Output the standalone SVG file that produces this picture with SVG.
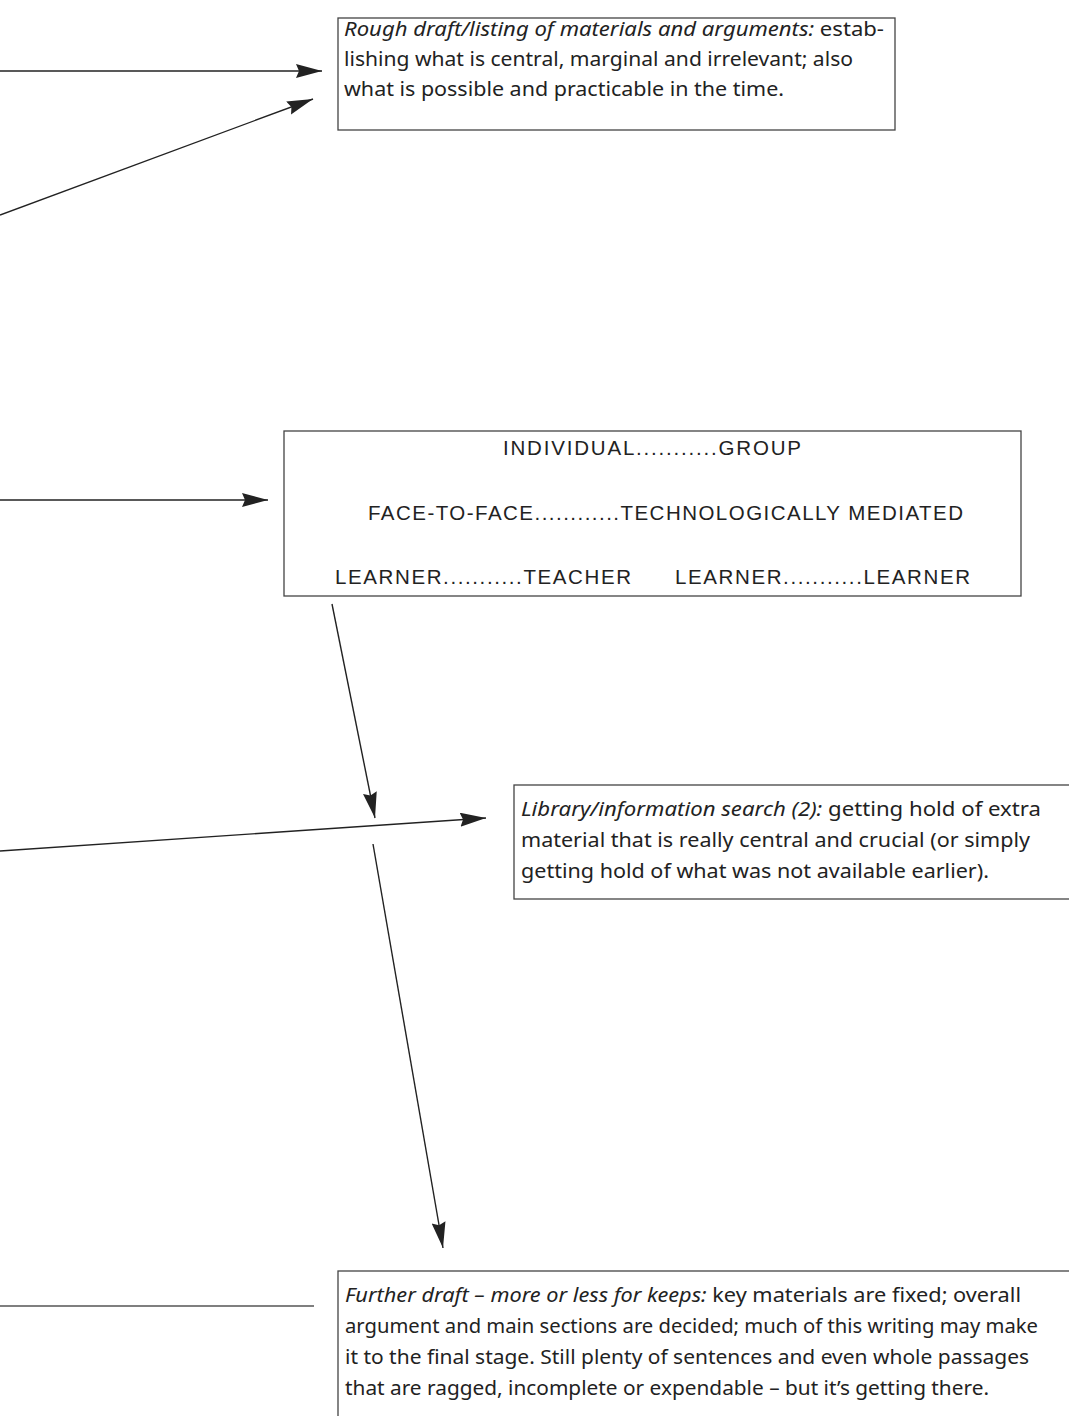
<svg xmlns="http://www.w3.org/2000/svg" width="1069" height="1416" viewBox="0 0 1069 1416">
<style>
.box{fill:#fff;stroke:#444;stroke-width:1.3}
.t{font-family:"Noto Sans","Open Sans",sans-serif;font-size:20px;fill:#222}
.i{font-style:italic}
.c{font-family:"Liberation Sans","Arial",sans-serif;font-size:20.5px;fill:#222}
.ln{stroke:#222;stroke-width:1.4;fill:none}
</style>
<defs>
<marker id="ah" markerUnits="userSpaceOnUse" markerWidth="28" markerHeight="16" refX="26" refY="7" orient="auto" viewBox="0 0 28 16">
<path d="M0,0 L26,7 L0,14 L3,7 Z" fill="#222"/>
</marker>
</defs>
<g id="connectors">
<line class="ln" x1="0" y1="71" x2="322" y2="71" marker-end="url(#ah)"/>
<line class="ln" x1="0" y1="215" x2="313" y2="99" marker-end="url(#ah)"/>
<line class="ln" x1="0" y1="500" x2="268" y2="500" marker-end="url(#ah)"/>
<line class="ln" x1="332" y1="604" x2="375" y2="818" marker-end="url(#ah)"/>
<line class="ln" x1="0" y1="851" x2="486" y2="818" marker-end="url(#ah)"/>
<line class="ln" x1="373" y1="844" x2="443" y2="1248" marker-end="url(#ah)"/>
<line x1="0" y1="1306" x2="314" y2="1306" stroke="#555" stroke-width="1.5"/>
</g>
<g id="rough-draft">
<rect class="box" x="338" y="18" width="557" height="112"/>
<text class="t" x="344" y="36" textLength="540" lengthAdjust="spacingAndGlyphs"><tspan class="i">Rough draft/listing of materials and arguments:</tspan> estab-</text>
<text class="t" x="344" y="66" textLength="509" lengthAdjust="spacingAndGlyphs">lishing what is central, marginal and irrelevant; also</text>
<text class="t" x="344" y="96" textLength="440" lengthAdjust="spacingAndGlyphs">what is possible and practicable in the time.</text>
</g>
<g id="modes">
<rect class="box" x="284" y="431" width="737" height="165"/>
<text class="c" x="503" y="455" textLength="298" lengthAdjust="spacing">INDIVIDUAL...........GROUP</text>
<text class="c" x="368" y="520" textLength="595" lengthAdjust="spacing">FACE-TO-FACE............TECHNOLOGICALLY MEDIATED</text>
<text class="c" x="335" y="584" textLength="296" lengthAdjust="spacing">LEARNER...........TEACHER</text>
<text class="c" x="675" y="584" textLength="295" lengthAdjust="spacing">LEARNER...........LEARNER</text>
</g>
<g id="library-search">
<rect class="box" x="514" y="785" width="570" height="114"/>
<text class="t" x="521" y="816" textLength="520" lengthAdjust="spacingAndGlyphs"><tspan class="i">Library/information search (2):</tspan> getting hold of extra</text>
<text class="t" x="521" y="847" textLength="509" lengthAdjust="spacingAndGlyphs">material that is really central and crucial (or simply</text>
<text class="t" x="521" y="878" textLength="468" lengthAdjust="spacingAndGlyphs">getting hold of what was not available earlier).</text>
</g>
<g id="further-draft">
<rect class="box" x="338" y="1271" width="746" height="160"/>
<text class="t" x="345" y="1302" textLength="676" lengthAdjust="spacingAndGlyphs"><tspan class="i">Further draft – more or less for keeps:</tspan> key materials are fixed; overall</text>
<text class="t" x="345" y="1333" textLength="693" lengthAdjust="spacingAndGlyphs">argument and main sections are decided; much of this writing may make</text>
<text class="t" x="345" y="1364" textLength="684" lengthAdjust="spacingAndGlyphs">it to the final stage. Still plenty of sentences and even whole passages</text>
<text class="t" x="345" y="1395" textLength="644" lengthAdjust="spacingAndGlyphs">that are ragged, incomplete or expendable – but it’s getting there.</text>
</g>
</svg>
